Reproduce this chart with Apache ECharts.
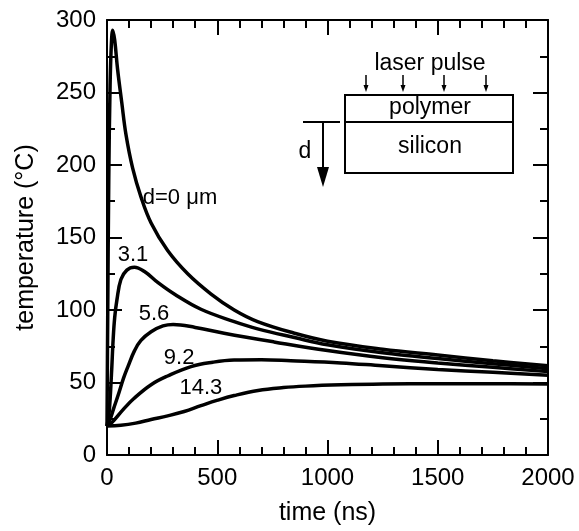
<!DOCTYPE html>
<html>
<head>
<meta charset="utf-8">
<script src="https://cdn.jsdelivr.net/npm/echarts@6/dist/echarts.min.js"></script>
<style>
html, body { margin: 0; padding: 0; background: #fff; }
#main { width: 579px; height: 531px; }
</style>
</head>
<body>
<div id="main"></div>
<script>
// 曲线数据 [time(ns), temperature(°C)]
var d0 = [[0, 20], [3, 90], [8, 190], [14, 255], [20, 284], [26, 293], [35, 286], [48, 266], [67, 243], [86, 221], [116, 198], [154, 178], [200, 160], [275, 141], [366, 125], [472, 111], [577, 100], [683, 92], [850, 84], [1000, 78.5], [1250, 73], [1500, 69], [1750, 65], [2000, 61.5]];
var d31 = [[0, 20], [10, 30], [20, 55], [28, 80], [35, 95], [45, 107], [63, 121], [90, 127.5], [124, 129.5], [170, 126.5], [230, 119], [305, 111], [426, 100.5], [577, 92], [683, 87], [850, 81], [1000, 76], [1250, 70.5], [1500, 66.5], [1750, 63], [2000, 59.5]];
var d56 = [[0, 20], [15, 25], [30, 32], [50, 41], [75, 53], [95, 61], [125, 72], [154, 79], [200, 85], [254, 89], [300, 90], [400, 88], [531, 84], [757, 78], [1000, 72], [1250, 67], [1500, 63.5], [1750, 60.5], [2000, 57.5]];
var d92 = [[0, 20], [20, 22], [77, 32], [122, 39], [200, 48.5], [275, 54.5], [381, 61], [480, 64], [576, 65.5], [700, 65.7], [834, 65], [1061, 63.5], [1250, 61.5], [1500, 59], [1750, 57], [2000, 55]];
var d143 = [[0, 20], [63, 20.5], [130, 22], [200, 24.5], [275, 27], [350, 30], [426, 34], [502, 37.8], [577, 41], [685, 44.5], [800, 46.5], [900, 47.5], [1061, 48.4], [1250, 49], [1500, 49.2], [1750, 49.2], [2000, 49]];

var seriesnames = ['d=0 μm', '3.1', '5.6', '9.2', '14.3'];
var serieslist = [d0, d31, d56, d92, d143];
// 曲线标注位置（数据坐标）
var labelcoords = [[331, 177], [118, 138], [213, 97], [327, 67], [426, 46]];

var xticks = { min: 0, max: 2000, interval: 500 };
var yticks = { min: 0, max: 300, interval: 50 };

var fontname = "'Liberation Sans', Arial, Helvetica, sans-serif";

function makeaxis(range, pos, showlabel, minorsplit) {
    return {
        type: 'value',
        position: pos,
        min: range.min,
        max: range.max,
        interval: range.interval,
        splitLine: { show: false },
        axisLine: { show: true, onZero: false, lineStyle: { color: '#000', width: 2 } },
        axisTick: { show: true, inside: true, length: 15, lineStyle: { color: '#000', width: 2 } },
        minorTick: { show: true, splitNumber: minorsplit, length: 8, lineStyle: { color: '#000', width: 2 } },
        axisLabel: {
            show: showlabel, color: '#000', fontSize: 24, fontFamily: fontname, margin: 11,
            formatter: function (v) { return String(v); }
        }
    };
}

var myChart = echarts.init(document.getElementById('main'));

var xaxislist = [makeaxis(xticks, 'bottom', true, 5), makeaxis(xticks, 'top', false, 5)];
xaxislist[0].name = 'time (ns)';
xaxislist[0].nameLocation = 'middle';
xaxislist[0].nameGap = 46;
xaxislist[0].nameTextStyle = { color: '#000', fontSize: 25, fontFamily: fontname };

var yaxislist = [makeaxis(yticks, 'left', true, 2), makeaxis(yticks, 'right', false, 2)];
yaxislist[0].name = 'temperature (°C)';
yaxislist[0].nameLocation = 'middle';
yaxislist[0].nameGap = 68;
yaxislist[0].nameTextStyle = { color: '#000', fontSize: 25, fontFamily: fontname };

var datalist = [];
for (var i = 0; i < serieslist.length; i++) {
    datalist.push({
        name: seriesnames[i],
        type: 'line',
        data: serieslist[i],
        smooth: 0.4,
        showSymbol: false,
        lineStyle: { color: '#000', width: 3.5 },
        markPoint: {
            symbol: 'circle',
            symbolSize: 1,
            itemStyle: { color: 'rgba(0,0,0,0)' },
            label: { show: true, position: 'inside', color: '#000', fontSize: 22, fontFamily: fontname, formatter: seriesnames[i] },
            data: [{ coord: labelcoords[i], value: seriesnames[i] }]
        }
    });
}

// 插图：激光脉冲/聚合物/硅
var pulsex = [366, 403, 444, 486];
var inset = [
    { type: 'rect', shape: { x: 345, y: 95, width: 168, height: 78 }, style: { fill: 'none', stroke: '#000', lineWidth: 2 } },
    { type: 'line', shape: { x1: 345, y1: 122, x2: 513, y2: 122 }, style: { stroke: '#000', lineWidth: 2 } },
    { type: 'line', shape: { x1: 303, y1: 122, x2: 340, y2: 122 }, style: { stroke: '#000', lineWidth: 2 } },
    { type: 'line', shape: { x1: 323, y1: 122, x2: 323, y2: 170 }, style: { stroke: '#000', lineWidth: 2 } },
    { type: 'polygon', shape: { points: [[317, 167], [329, 167], [323, 187]] }, style: { fill: '#000' } },
    { type: 'text', x: 430, y: 64, style: { text: 'laser pulse', fill: '#000', font: '23px ' + fontname, align: 'center', verticalAlign: 'middle' } },
    { type: 'text', x: 430, y: 108, style: { text: 'polymer', fill: '#000', font: '23px ' + fontname, align: 'center', verticalAlign: 'middle' } },
    { type: 'text', x: 430, y: 147, style: { text: 'silicon', fill: '#000', font: '23px ' + fontname, align: 'center', verticalAlign: 'middle' } },
    { type: 'text', x: 305, y: 152, style: { text: 'd', fill: '#000', font: '23px ' + fontname, align: 'center', verticalAlign: 'middle' } }
];
for (var k = 0; k < pulsex.length; k++) {
    inset.push({ type: 'line', shape: { x1: pulsex[k], y1: 75, x2: pulsex[k], y2: 87 }, style: { stroke: '#000', lineWidth: 1.5 } });
    inset.push({ type: 'polygon', shape: { points: [[pulsex[k] - 2.5, 85], [pulsex[k] + 2.5, 85], [pulsex[k], 92]] }, style: { fill: '#000' } });
}

var option = {
    backgroundColor: '#fff',
    animation: false,
    grid: { left: 107, right: 31, top: 20, bottom: 71, containLabel: false },
    xAxis: xaxislist,
    yAxis: yaxislist,
    series: datalist,
    graphic: inset
};
myChart.setOption(option);
</script>
</body>
</html>
